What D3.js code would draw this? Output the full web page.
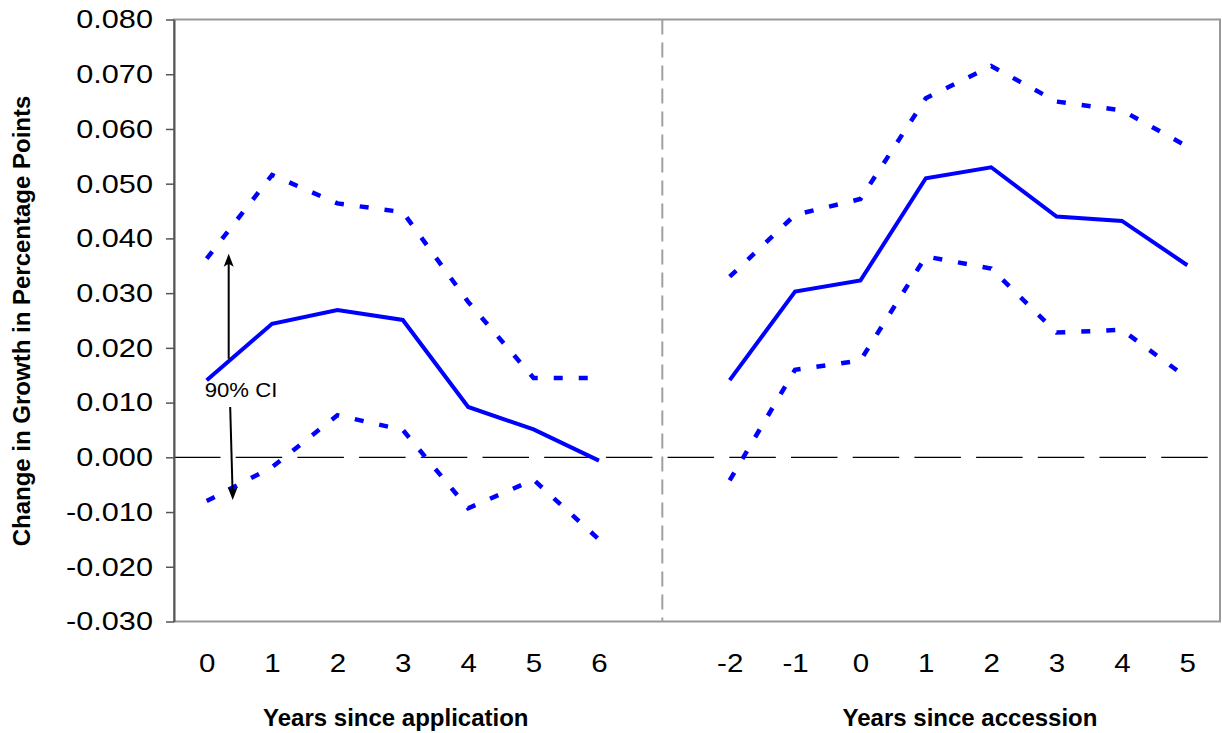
<!DOCTYPE html>
<html>
<head>
<meta charset="utf-8">
<script src="https://cdn.jsdelivr.net/npm/d3@7"></script>
<style>
  body { margin: 0; background: #fff; }
  text { font-family: Arial, "Liberation Sans", sans-serif; }
</style>
</head>
<body>
<svg width="1222" height="733"></svg>
<script>

// values
const appYears = [ "0", "1", "2", "3", "4", "5", "6" ];
const appEst   = [ 0.0141, 0.0244, 0.0269, 0.0251, 0.0092, 0.0051, -0.0006 ];
const appUpper = [ 0.0363, 0.0516, 0.0464, 0.0448, 0.0284, 0.0145, 0.0145 ];
const appLower = [ -0.0080, -0.0018, 0.0077, 0.0050, -0.0093, -0.0041, -0.0150 ];

const accYears = [ "-2", "-1", "0", "1", "2", "3", "4", "5" ];
const accEst   = [ 0.0141, 0.0303, 0.0323, 0.0510, 0.0530, 0.0440, 0.0432, 0.0351 ];
const accUpper = [ 0.0330, 0.0443, 0.0472, 0.0656, 0.0715, 0.0650, 0.0634, 0.0568 ];
const accLower = [ -0.0042, 0.0160, 0.0177, 0.0367, 0.0345, 0.0228, 0.0233, 0.0145 ];

const yTicks = [ -0.03, -0.02, -0.01, 0, 0.01, 0.02, 0.03, 0.04, 0.05, 0.06, 0.07, 0.08 ];

const ciLabel = "90% CI";
const ciArrowUp   = [ 0.0180, 0.0372 ];
const ciArrowDown = [ 0.0092, -0.0078 ];

const margin = { top: 19.5, right: 2, bottom: 111.5, left: 174 };
const width = 1222 - margin.left - margin.right;
const height = 733 - margin.top - margin.bottom;

const svg = d3.select( "svg" );
const g = svg.append( "g" )
  .attr( "transform", `translate(${ margin.left },${ margin.top })` );

// one x slot per year, plus an empty slot between the two panels
const keys = appYears.map( d => "a" + d )
  .concat( [ "gap" ] )
  .concat( accYears.map( d => "b" + d ) );

const x = d3.scalePoint()
  .domain( keys )
  .range( [ 0, width ] )
  .padding( 0.5 );

const y = d3.scaleLinear()
  .domain( [ -0.03, 0.08 ] )
  .range( [ height, 0 ] );

const blue = "#0000ff";

// frame
g.append( "rect" )
  .attr( "x", 0 )
  .attr( "y", 0 )
  .attr( "width", width )
  .attr( "height", height )
  .attr( "fill", "none" )
  .attr( "stroke", "#999" )
  .attr( "stroke-width", 2 );

// separator between panels
g.append( "line" )
  .attr( "x1", x( "gap" ) - 2 )
  .attr( "x2", x( "gap" ) - 2 )
  .attr( "y1", 0 )
  .attr( "y2", height )
  .attr( "stroke", "#a0a0a0" )
  .attr( "stroke-width", 2 )
  .attr( "stroke-dasharray", "15,8" );

// zero line
g.append( "line" )
  .attr( "x1", 0 )
  .attr( "x2", width )
  .attr( "y1", y( 0 ) )
  .attr( "y2", y( 0 ) )
  .attr( "stroke", "#000" )
  .attr( "stroke-width", 1.2 )
  .attr( "stroke-dasharray", "46.5,15.2" );

// y axis
const yAxis = g.append( "g" )
  .call( d3.axisLeft( y )
    .tickValues( yTicks )
    .tickSize( 8 )
    .tickSizeOuter( 0 )
    .tickPadding( 13 )
    .tickFormat( d => d3.format( ".3f" )( d ).replace( "\u2212", "-" ) ) );

yAxis.select( ".domain" )
  .attr( "stroke", "#555" )
  .attr( "stroke-width", 2 );

yAxis.selectAll( ".tick line" )
  .attr( "stroke", "#555" )
  .attr( "stroke-width", 1.5 );

yAxis.selectAll( "text" )
  .attr( "fill", "#000" )
  .style( "font-size", "26px" )
  .attr( "font-family", null );

// x axis labels, no ticks
const xAxis = g.append( "g" )
  .attr( "transform", `translate(0,${ height })` )
  .call( d3.axisBottom( x )
    .tickSize( 0 )
    .tickPadding( 33 )
    .tickFormat( d => d === "gap" ? "" : d.slice( 1 ) ) );

xAxis.select( ".domain" ).remove();

xAxis.selectAll( "text" )
  .attr( "fill", "#000" )
  .style( "font-size", "25px" )
  .attr( "font-family", null );

// stretch tick labels a bit wider, like the picture
svg.selectAll( ".tick text" ).each( function() {
  const len = this.getComputedTextLength();
  if( len > 0 ) {
    d3.select( this )
      .attr( "textLength", len * 1.18 )
      .attr( "lengthAdjust", "spacingAndGlyphs" );
  }
} );

// series
const line = d3.line()
  .x( d => x( d[ 0 ] ) )
  .y( d => y( d[ 1 ] ) );

const series = [
  { keys: appYears.map( d => "a" + d ), values: appUpper, dotted: true },
  { keys: appYears.map( d => "a" + d ), values: appLower, dotted: true },
  { keys: appYears.map( d => "a" + d ), values: appEst, dotted: false },
  { keys: accYears.map( d => "b" + d ), values: accUpper, dotted: true },
  { keys: accYears.map( d => "b" + d ), values: accLower, dotted: true },
  { keys: accYears.map( d => "b" + d ), values: accEst, dotted: false }
];

g.selectAll( "path.series" )
  .data( series )
  .enter()
  .append( "path" )
    .attr( "class", "series" )
    .attr( "d", s => line( s.keys.map( ( k, i ) => [ k, s.values[ i ] ] ) ) )
    .attr( "fill", "none" )
    .attr( "stroke", blue )
    .attr( "stroke-width", s => s.dotted ? 4.5 : 4 )
    .attr( "stroke-dasharray", s => s.dotted ? "9,16" : null )
    .attr( "stroke-linejoin", "miter" );

// CI annotation
const x0 = x( "a0" );

g.append( "line" )
  .attr( "x1", x0 + 22 )
  .attr( "x2", x0 + 22 )
  .attr( "y1", y( ciArrowUp[ 0 ] ) )
  .attr( "y2", y( ciArrowUp[ 1 ] ) + 4 )
  .attr( "stroke", "#000" )
  .attr( "stroke-width", 2 );

g.append( "path" )
  .attr( "d", `M${ x0 + 22 },${ y( ciArrowUp[ 1 ] ) } l-5,13 l5,-3 l5,3 Z` )
  .attr( "fill", "#000" );

g.append( "line" )
  .attr( "x1", x0 + 23.5 )
  .attr( "x2", x0 + 26 )
  .attr( "y1", y( ciArrowDown[ 0 ] ) )
  .attr( "y2", y( ciArrowDown[ 1 ] ) - 4 )
  .attr( "stroke", "#000" )
  .attr( "stroke-width", 2 );

g.append( "path" )
  .attr( "d", `M${ x0 + 26 },${ y( ciArrowDown[ 1 ] ) } l-5,-13 l5,3 l5,-3 Z` )
  .attr( "fill", "#000" );

const ci = g.append( "text" )
  .attr( "x", x0 - 2 )
  .attr( "y", 377.5 )
  .style( "font-size", "20.5px" )
  .text( ciLabel );
ci.attr( "textLength", ci.node().getComputedTextLength() * 1.08 )
  .attr( "lengthAdjust", "spacingAndGlyphs" );

// axis titles
svg.append( "text" )
  .attr( "transform", "translate(30,321) rotate(-90)" )
  .attr( "text-anchor", "middle" )
  .style( "font-size", "24px" )
  .style( "font-weight", "bold" )
  .text( "Change in Growth in Percentage Points" );

svg.append( "text" )
  .attr( "x", margin.left + x( "a3" ) - 7 )
  .attr( "y", 726 )
  .attr( "text-anchor", "middle" )
  .style( "font-size", "24px" )
  .style( "font-weight", "bold" )
  .text( "Years since application" );

svg.append( "text" )
  .attr( "x", 970 )
  .attr( "y", 726 )
  .attr( "text-anchor", "middle" )
  .style( "font-size", "24px" )
  .style( "font-weight", "bold" )
  .text( "Years since accession" );

</script>
</body>
</html>
